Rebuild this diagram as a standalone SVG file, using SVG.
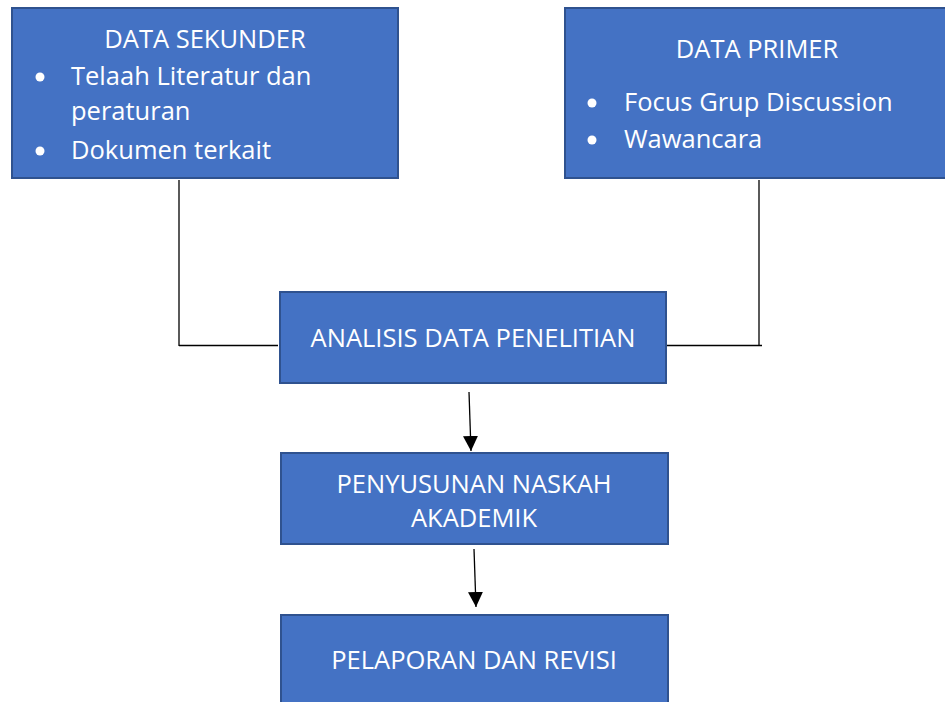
<svg xmlns="http://www.w3.org/2000/svg" width="945" height="702" viewBox="0 0 945 702">
<style>
.box{fill:#4472C4;stroke:#2F528F;stroke-width:2}
.t{font-family:"Open Sans","Liberation Sans",sans-serif;font-size:25.5px;fill:#FFFFFF}
.c{text-anchor:middle}
.ln{stroke:#000;stroke-width:1.3;fill:none}
.bul{fill:#FFFFFF}
</style>
<defs>
<marker id="ah" markerWidth="15" markerHeight="15" refX="15" refY="7.5" orient="auto" markerUnits="userSpaceOnUse" viewBox="0 0 15 15">
<path d="M0,0 L15,7.5 L0,15 Z" fill="#000"/>
</marker>
</defs>
<g id="connectors">
<polyline class="ln" points="179,180 179,346"/>
<line class="ln" x1="179" y1="345.5" x2="278" y2="345.5"/>
<polyline class="ln" points="759,180 759,346"/>
<line class="ln" x1="667" y1="345.5" x2="762" y2="345.5"/>
<line class="ln" x1="469" y1="392" x2="471" y2="451" marker-end="url(#ah)"/>
<line class="ln" x1="474" y1="549" x2="476" y2="607" marker-end="url(#ah)"/>
</g>
<g id="data-sekunder">
<rect class="box" x="12" y="8" width="386" height="170"/>
<text class="t c" x="205" y="48">DATA SEKUNDER</text>
<circle class="bul" cx="40" cy="77" r="4.5"/>
<text class="t" x="71" y="85">Telaah Literatur dan</text>
<text class="t" x="71" y="120">peraturan</text>
<circle class="bul" cx="40" cy="151" r="4.5"/>
<text class="t" x="71" y="159">Dokumen terkait</text>
</g>
<g id="data-primer">
<rect class="box" x="565" y="8" width="390" height="170"/>
<text class="t c" x="757" y="58">DATA PRIMER</text>
<circle class="bul" cx="592" cy="103" r="4.5"/>
<text class="t" x="624" y="111">Focus Grup Discussion</text>
<circle class="bul" cx="592" cy="140" r="4.5"/>
<text class="t" x="624" y="148">Wawancara</text>
</g>
<g id="analisis">
<rect class="box" x="280" y="292" width="386" height="91"/>
<text class="t c" x="473" y="347">ANALISIS DATA PENELITIAN</text>
</g>
<g id="penyusunan">
<rect class="box" x="281" y="453" width="387" height="91"/>
<text class="t c" x="474" y="493">PENYUSUNAN NASKAH</text>
<text class="t c" x="474" y="527">AKADEMIK</text>
</g>
<g id="pelaporan">
<rect class="box" x="281" y="615" width="387" height="100"/>
<text class="t c" x="474" y="669">PELAPORAN DAN REVISI</text>
</g>
</svg>
